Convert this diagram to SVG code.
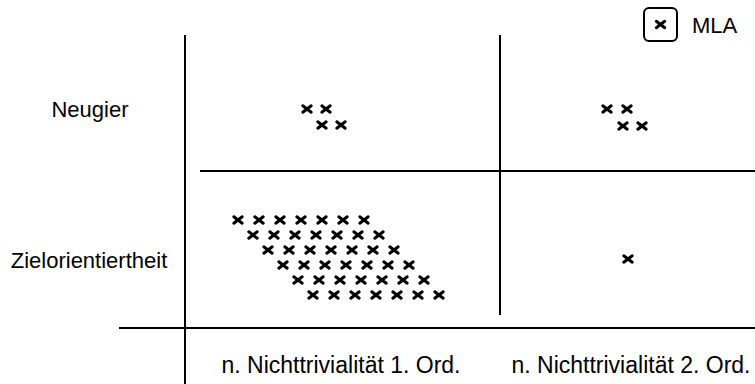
<svg xmlns="http://www.w3.org/2000/svg" xmlns:xlink="http://www.w3.org/1999/xlink" width="755" height="384" viewBox="0 0 755 384">
<style>
.t{font-family:"Liberation Sans",Arial,Helvetica,sans-serif;font-size:22px;fill:#000}
.b{font-size:23px}
.ln{stroke:#000;stroke-width:2;fill:none}
.mk{stroke:#000;stroke-width:3;stroke-linecap:round;fill:none}
</style>
<defs>
<path id="x" class="mk" d="M-4.2,-3.2 L4.2,3.2 M-4.2,3.2 L4.2,-3.2"/>
</defs>
<rect width="755" height="384" fill="#fff"/>
<g id="connectors">
<line class="ln" x1="185" y1="35" x2="185" y2="384"/>
<line class="ln" x1="500" y1="35" x2="500" y2="315"/>
<line class="ln" x1="200" y1="171" x2="755" y2="171"/>
<line class="ln" x1="119" y1="328" x2="755" y2="328"/>
</g>
<g id="legend">
<rect x="644" y="8" width="33" height="33" rx="5" fill="none" stroke="#000" stroke-width="2"/>
<use xlink:href="#x" x="660.5" y="24.5"/>
<text class="t" x="692" y="33">MLA</text>
</g>
<g id="row-labels">
<text class="t" x="90" y="117" text-anchor="middle">Neugier</text>
<text class="t" x="89" y="268" text-anchor="middle">Zielorientiertheit</text>
</g>
<g id="col-labels">
<text class="t b" x="341" y="373" text-anchor="middle">n. Nichttrivialität 1. Ord.</text>
<text class="t b" x="631" y="373" text-anchor="middle">n. Nichttrivialität 2. Ord.</text>
</g>
<g id="cell-neugier-1">
<use xlink:href="#x" x="307" y="109"/><use xlink:href="#x" x="326" y="109"/>
<use xlink:href="#x" x="322" y="125"/><use xlink:href="#x" x="341" y="125"/>
</g>
<g id="cell-neugier-2">
<use xlink:href="#x" x="607" y="109"/><use xlink:href="#x" x="627" y="109"/>
<use xlink:href="#x" x="623" y="126"/><use xlink:href="#x" x="642" y="126"/>
</g>
<g id="cell-ziel-1">
<use xlink:href="#x" x="238" y="220"/><use xlink:href="#x" x="259" y="220"/><use xlink:href="#x" x="280" y="220"/><use xlink:href="#x" x="301" y="220"/><use xlink:href="#x" x="322" y="220"/><use xlink:href="#x" x="343" y="220"/><use xlink:href="#x" x="364" y="220"/>
<use xlink:href="#x" x="253" y="235"/><use xlink:href="#x" x="274" y="235"/><use xlink:href="#x" x="295" y="235"/><use xlink:href="#x" x="316" y="235"/><use xlink:href="#x" x="337" y="235"/><use xlink:href="#x" x="358" y="235"/><use xlink:href="#x" x="379" y="235"/>
<use xlink:href="#x" x="268" y="250"/><use xlink:href="#x" x="289" y="250"/><use xlink:href="#x" x="310" y="250"/><use xlink:href="#x" x="331" y="250"/><use xlink:href="#x" x="352" y="250"/><use xlink:href="#x" x="373" y="250"/><use xlink:href="#x" x="394" y="250"/>
<use xlink:href="#x" x="283" y="265"/><use xlink:href="#x" x="304" y="265"/><use xlink:href="#x" x="325" y="265"/><use xlink:href="#x" x="346" y="265"/><use xlink:href="#x" x="367" y="265"/><use xlink:href="#x" x="388" y="265"/><use xlink:href="#x" x="409" y="265"/>
<use xlink:href="#x" x="298" y="280"/><use xlink:href="#x" x="319" y="280"/><use xlink:href="#x" x="340" y="280"/><use xlink:href="#x" x="361" y="280"/><use xlink:href="#x" x="382" y="280"/><use xlink:href="#x" x="403" y="280"/><use xlink:href="#x" x="424" y="280"/>
<use xlink:href="#x" x="313" y="295"/><use xlink:href="#x" x="334" y="295"/><use xlink:href="#x" x="355" y="295"/><use xlink:href="#x" x="376" y="295"/><use xlink:href="#x" x="397" y="295"/><use xlink:href="#x" x="418" y="295"/><use xlink:href="#x" x="439" y="295"/>
</g>
<g id="cell-ziel-2">
<use xlink:href="#x" x="628" y="259"/>
</g>
</svg>
